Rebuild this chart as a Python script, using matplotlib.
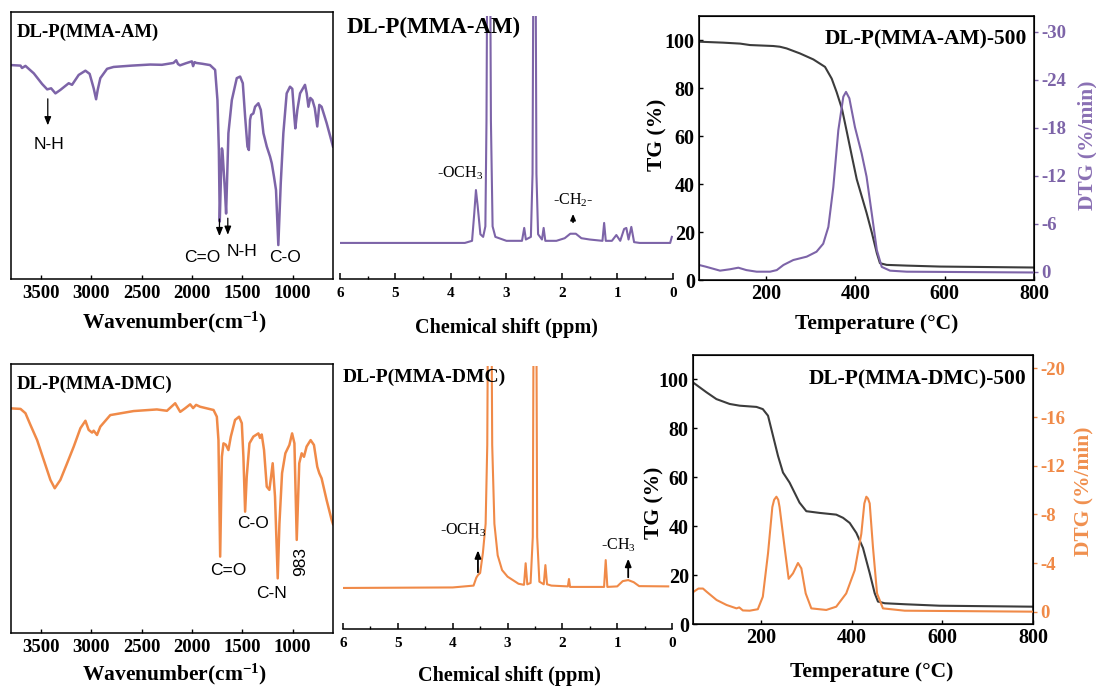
import matplotlib
matplotlib.use("Agg")
import matplotlib.pyplot as plt

plt.rcParams["font.family"] = ["Liberation Serif", "DejaVu Serif"]
plt.rcParams["mathtext.fontset"] = "custom"
plt.rcParams["mathtext.rm"] = "Liberation Serif"
plt.rcParams["mathtext.bf"] = "Liberation Serif:bold"
plt.rcParams["mathtext.it"] = "Liberation Serif:italic"
plt.rcParams["axes.unicode_minus"] = False

PURPLE = "#7d64a8"
ORANGE = "#f08a48"
GREY = "#3c3c3c"
SANS = ["Liberation Sans", "DejaVu Sans"]

# ---------------- FTIR (wavenumber, transmittance a.u.) ----------------
ftir_am_wn = [3800, 3705, 3690, 3656, 3573, 3490, 3440, 3401, 3358, 3309, 3226, 3193,
              3127, 3060, 3018, 2978, 2954, 2938, 2912, 2845, 2780, 2600, 2416, 2300,
              2185, 2158, 2140, 2120, 2060, 2002, 1990, 1975, 1958, 1900, 1822, 1771,
              1748, 1734, 1725, 1712, 1704, 1698, 1674, 1662, 1650, 1639, 1605, 1556,
              1523, 1496, 1473, 1450, 1436, 1424, 1414, 1391, 1374, 1341, 1317, 1291,
              1258, 1225, 1208, 1186, 1166, 1143, 1119, 1093, 1060, 1027, 1004, 984,
              974, 954, 927, 878, 861, 844, 825, 804, 781, 756, 736, 713, 663, 600]
ftir_am_t = [80.1, 79.9, 79.0, 79.8, 77.0, 73.0, 71.0, 71.4, 69.5, 70.8, 73.3, 72.7,
             76.4, 78.0, 76.8, 71.4, 67.3, 70.8, 75.2, 78.7, 79.4, 79.9, 80.3, 80.2,
             80.9, 81.9, 80.5, 80.0, 80.8, 81.5, 79.7, 81.2, 80.9, 80.6, 80.1, 78.3,
             67.0, 48.3, 21.5, 40.0, 48.9, 48.0, 33.3, 24.5, 40.0, 54.6, 67.0, 75.2,
             75.8, 73.3, 60.8, 49.6, 48.3, 59.6, 61.4, 62.0, 64.5, 65.8, 63.3, 54.6,
             49.6, 45.8, 43.3, 38.3, 33.3, 12.7, 35.8, 54.6, 69.5, 72.0, 71.2, 60.8,
             56.4, 63.3, 69.5, 72.7, 69.5, 64.5, 67.8, 67.0, 64.0, 57.1, 65.2, 64.5,
             58.4, 49.6]

ftir_dmc_wn = [3800, 3705, 3656, 3606, 3540, 3474, 3408, 3365, 3309, 3242, 3176, 3110,
               3060, 3028, 2994, 2978, 2945, 2912, 2813, 2581, 2350, 2250, 2168, 2118,
               2070, 2019, 1990, 1960, 1920, 1787, 1754, 1738, 1721, 1704, 1688, 1665,
               1639, 1615, 1573, 1533, 1506, 1490, 1473, 1457, 1430, 1391, 1341, 1325,
               1308, 1285, 1258, 1232, 1215, 1199, 1176, 1149, 1132, 1106, 1073, 1033,
               1006, 983, 960, 935, 911, 888, 862, 822, 789, 756, 736, 713, 663, 613, 600]
ftir_dmc_t = [83.5, 83.3, 81.7, 77.3, 71.7, 64.3, 56.9, 53.8, 56.9, 63.1, 69.3, 76.1,
              78.9, 75.5, 74.5, 75.2, 73.6, 76.7, 81.0, 82.5, 83.1, 82.6, 85.4, 82.2,
              83.5, 85.0, 83.6, 84.8, 84.1, 82.9, 80.4, 71.7, 28.4, 65.5, 70.5, 70.0,
              68.0, 73.0, 79.2, 80.4, 78.0, 65.5, 45.1, 58.1, 70.5, 73.0, 74.2, 72.5,
              73.8, 68.0, 54.4, 53.2, 58.1, 63.1, 50.7, 20.3, 40.7, 59.4, 66.8, 69.9,
              74.2, 70.5, 34.6, 63.1, 66.8, 65.5, 69.3, 71.7, 69.9, 61.8, 59.4, 57.5,
              49.4, 42.0, 40.5]
ftir_ticks = [3500, 3000, 2500, 2000, 1500, 1000]

# ---------------- 1H NMR (ppm, intensity a.u.) ----------------
nmr_am_ppm = [6.0, 3.75, 3.62, 3.58, 3.55, 3.52, 3.47, 3.42, 3.38, 3.36, 3.34, 3.30,
              3.28, 3.25, 3.2, 3.0, 2.72, 2.68, 2.65, 2.56, 2.53, 2.51, 2.48, 2.46,
              2.43, 2.36, 2.33, 2.30, 2.1, 1.95, 1.85, 1.75, 1.65, 1.5, 1.27, 1.24,
              1.21, 1.1, 1.02, 0.95, 0.88, 0.84, 0.80, 0.75, 0.70, 0.6, 0.05, 0.02]
nmr_am_int = [13.7, 13.7, 14.5, 25.0, 33.8, 28.0, 17.0, 16.0, 20.0, 60.0, 150, 150,
              60.0, 20.0, 16.0, 14.5, 14.5, 19.4, 15.0, 16.0, 40.0, 150, 150, 40.0,
              17.0, 15.0, 19.4, 14.5, 14.5, 15.5, 17.2, 17.2, 15.5, 15.0, 14.5, 21.3,
              14.5, 14.5, 16.7, 14.5, 19.0, 19.4, 15.0, 19.8, 14.0, 13.7, 13.7, 16.0]

nmr_dmc_ppm = [6.0, 4.0, 3.62, 3.57, 3.54, 3.50, 3.45, 3.40, 3.37, 3.35, 3.30, 3.28,
               3.24, 3.18, 3.10, 3.00, 2.80, 2.70, 2.67, 2.64, 2.58, 2.54, 2.52, 2.48,
               2.46, 2.42, 2.34, 2.31, 2.28, 2.2, 1.90, 1.88, 1.86, 1.5, 1.24, 1.21,
               1.18, 1.0, 0.9, 0.8, 0.7, 0.6, 0.07]
nmr_dmc_int = [15.6, 15.8, 16.5, 19.5, 20.5, 21.3, 28.9, 40.0, 70.0, 150, 150, 70.0,
               40.0, 28.0, 22.4, 19.9, 17.2, 16.8, 25.0, 17.0, 17.5, 35.0, 150, 150,
               35.0, 18.0, 17.0, 24.3, 17.0, 16.5, 16.2, 19.0, 16.0, 16.0, 16.0, 26.2,
               16.0, 16.2, 18.2, 18.6, 17.8, 16.3, 16.2]

# ---------------- TGA / DTG ----------------
tg_am_temp = [50, 104, 142, 164, 216, 231, 246, 276, 306, 332, 347, 358, 370, 381,
              392, 403, 414, 425, 437, 448, 455, 470, 515, 589, 800]
tg_am = [99.3, 98.9, 98.5, 97.9, 97.5, 97.2, 96.5, 94.4, 91.9, 88.8, 83.9, 78.3, 71.3,
         61.6, 51.7, 42.0, 35.0, 28.0, 19.6, 11.2, 7.0, 6.3, 6.0, 5.6, 5.2]
dtg_am_temp = [50, 65, 97, 119, 138, 156, 179, 209, 224, 239, 261, 291, 313, 328,
               339.5, 350.6, 361.8, 373, 379, 386.5, 399, 414, 425, 436.6, 448, 459,
               477.6, 515, 800]
dtg_am = [-0.84, -0.63, -0.13, -0.3, -0.5, -0.2, 0.0, 0.0, -0.2, -0.84, -1.46, -1.88,
          -2.5, -3.5, -5.6, -10.6, -17.7, -21.9, -22.5, -21.7, -18.1, -14.8, -11.9,
          -7.3, -2.7, -0.6, -0.13, 0.0, 0.1]

tg_dmc_temp = [50, 79.5, 101.6, 131, 153, 190, 204, 215.5, 226.5, 237.5, 248.5, 263,
               274, 285, 300, 329.5, 366, 381, 395.7, 410.4, 425, 439.8, 450.8, 458,
               473, 517, 594, 800]
tg_dmc = [98.8, 94.8, 92.0, 90.0, 89.3, 88.8, 87.9, 85.2, 77.0, 68.8, 62.0, 57.9,
          53.8, 49.7, 46.2, 45.5, 44.8, 43.5, 41.4, 37.3, 31.2, 20.9, 12.7, 9.3, 8.6,
          8.2, 7.6, 7.2]
dtg_dmc_temp = [50, 62, 72, 80, 102, 124, 146, 152, 160, 175, 193, 204, 215.5, 225,
                229, 234, 238, 241, 252, 261, 270.6, 281.6, 289, 298.6, 311, 344, 366,
                388, 406.7, 421.3, 428, 432.4, 436, 439.8, 447, 456, 469, 517, 800]
dtg_dmc = [-1.6, -1.9, -1.9, -1.64, -0.96, -0.55, -0.27, -0.35, -0.1, -0.08, -0.2,
           -1.23, -4.8, -8.6, -9.2, -9.45, -9.2, -8.6, -5.3, -2.7, -3.15, -4.0, -3.56,
           -1.5, -0.27, -0.14, -0.41, -1.5, -3.4, -6.4, -8.9, -9.45, -9.3, -8.9, -5.3,
           -1.5, -0.27, -0.08, 0.0]

fig = plt.figure(figsize=(10.96, 6.9), dpi=100)


def ftir_panel(rect, wn, t, color, title):
    ax = fig.add_axes(rect)
    ax.plot(wn, t, color=color, lw=1.8)
    ax.set_xlim(3800, 600)
    ax.set_ylim(0, 100)
    ax.set_yticks([])
    ax.set_xticks(ftir_ticks)
    ax.tick_params(axis="x", direction="in", length=3, width=1, pad=4, labelsize=13.5)
    for lab in ax.get_xticklabels():
        lab.set_fontweight("bold")
    for s in ax.spines.values():
        s.set_linewidth(1.1)
    ax.text(0.017, 0.925, title, transform=ax.transAxes, fontsize=13.5,
            fontweight="bold", va="center", ha="left")
    return ax


def nmr_panel(rect, ppm, inten, color, title, tsize):
    ax = fig.add_axes(rect)
    ax.plot(ppm, inten, color=color, lw=1.5)
    ax.set_xlim(6, 0)
    ax.set_ylim(0, 100)
    ax.set_yticks([])
    for side in ("left", "right", "top"):
        ax.spines[side].set_visible(False)
    ax.spines["bottom"].set_linewidth(1.1)
    ax.set_xticks(range(0, 7))
    ax.set_xticks([i + 0.5 for i in range(6)], minor=True)
    ax.tick_params(axis="x", which="major", direction="in", length=4, width=1.1,
                   pad=6, labelsize=11)
    ax.tick_params(axis="x", which="minor", direction="in", length=2.5, width=1)
    for lab in ax.get_xticklabels():
        lab.set_fontweight("bold")
    ax.patch.set_alpha(0)
    ax.text(0.02 if tsize > 15 else 0.0, 0.955, title, transform=ax.transAxes,
            fontsize=tsize, fontweight="bold", va="center", ha="left")
    return ax


def tga_panel(rect, temp, tg, dtemp, dtg, color, title, dlim, dticks):
    ax = fig.add_axes(rect)
    ax.plot(temp, tg, color=GREY, lw=1.5)
    ax.set_xlim(50, 800)
    ax.set_ylim(0, 110)
    ax.set_yticks(range(0, 101, 20))
    ax.set_xticks([200, 400, 600, 800])
    ax.tick_params(direction="in", length=3, width=1, labelsize=14.5, pad=3)
    for lab in ax.get_xticklabels() + ax.get_yticklabels():
        lab.set_fontweight("bold")
    for s in ax.spines.values():
        s.set_linewidth(1.1)
    ax2 = ax.twinx()
    ax2.plot(dtemp, dtg, color=color, lw=1.5)
    ax2.set_ylim(*dlim)
    ax2.set_yticks(dticks)
    ax2.tick_params(axis="y", direction="out", length=3, width=1, colors=color,
                    labelsize=13.5, pad=2)
    for lab in ax2.get_yticklabels():
        lab.set_fontweight("bold")
    ax2.text(0.98, 0.91, title, transform=ax2.transAxes, fontsize=15.5,
             fontweight="bold", ha="right", va="center")
    return ax, ax2


# ---- top row ----
ax1 = ftir_panel([0.0100, 0.5957, 0.2938, 0.3870], ftir_am_wn, ftir_am_t, PURPLE,
                 "DL-P(MMA-AM)")
arrow = dict(arrowstyle="-|>,head_length=0.5,head_width=0.2", color="black", lw=0.9)
ax1.annotate("", xy=(3434, 56.5), xytext=(3434, 68.5), arrowprops=arrow)
ax1.text(3418, 50.2, "N-H", family=SANS, fontsize=12.5, ha="center", va="center")
ax1.annotate("", xy=(1728, 15.0), xytext=(1728, 23.5), arrowprops=arrow)
ax1.annotate("", xy=(1645, 15.5), xytext=(1645, 23.8), arrowprops=arrow)
ax1.text(1898, 8.2, "C=O", family=SANS, fontsize=12.5, ha="center", va="center")
ax1.text(1500, 10.2, "N-H", family=SANS, fontsize=12.5, ha="center", va="center")
ax1.text(1077, 8.1, "C-O", family=SANS, fontsize=12.5, ha="center", va="center")

ax2 = nmr_panel([0.3102, 0.5957, 0.3038, 0.3812], nmr_am_ppm, nmr_am_int, PURPLE,
                "DL-P(MMA-AM)", 16.5)
ax2.text(3.84, 40.3, "-OCH$_3$", fontsize=11.5, ha="center", va="center")
ax2.text(1.8, 30.0, "-CH$_2$-", fontsize=11.5, ha="center", va="center")
ax2.annotate("", xy=(1.8, 25.8), xytext=(1.8, 20.5),
             arrowprops=dict(arrowstyle="-|>,head_length=0.35,head_width=0.15",
                             color="black", lw=1.2))

tga_panel([0.6378, 0.5942, 0.3057, 0.3826], tg_am_temp, tg_am, dtg_am_temp, dtg_am,
          PURPLE, "DL-P(MMA-AM)-500", (1.04, -32.0), [0, -6, -12, -18, -24, -30])

# ---- bottom row ----
ax4 = ftir_panel([0.0100, 0.0826, 0.2938, 0.3899], ftir_dmc_wn, ftir_dmc_t, ORANGE,
                 "DL-P(MMA-DMC)")
ax4.text(1639, 23.4, "C=O", family=SANS, fontsize=12.5, ha="center", va="center")
ax4.text(1391, 40.8, "C-O", family=SANS, fontsize=12.5, ha="center", va="center")
ax4.text(1209, 14.8, "C-N", family=SANS, fontsize=12.5, ha="center", va="center")
ax4.text(921, 26.5, "983", family=SANS, fontsize=12.5, ha="center", va="center",
         rotation=90)

ax5 = nmr_panel([0.3130, 0.0884, 0.3002, 0.3812], nmr_dmc_ppm, nmr_dmc_int, ORANGE,
                "DL-P(MMA-DMC)", 14)
ax5.text(3.81, 37.6, "-OCH$_3$", fontsize=11.5, ha="center", va="center")
ax5.text(0.98, 31.9, "-CH$_3$", fontsize=11.5, ha="center", va="center")
narrow = dict(arrowstyle="-|>,head_length=0.45,head_width=0.18", color="black", lw=1.3)
ax5.annotate("", xy=(3.54, 31.0), xytext=(3.54, 20.5), arrowprops=narrow)
ax5.annotate("", xy=(0.80, 27.8), xytext=(0.80, 18.6), arrowprops=narrow)

tga_panel([0.6323, 0.0952, 0.3102, 0.3903], tg_dmc_temp, tg_dmc, dtg_dmc_temp, dtg_dmc,
          ORANGE, "DL-P(MMA-DMC)-500", (1.04, -21.1), [0, -4, -8, -12, -16, -20])

# ---- axis labels placed in figure coordinates ----
lab = dict(fontweight="bold", ha="center", va="center")
fig.text(0.159, 0.533, r"Wavenumber(cm$^{\mathbf{-1}}$)", fontsize=15.5, **lab)
fig.text(0.159, 0.022, r"Wavenumber(cm$^{\mathbf{-1}}$)", fontsize=15.5, **lab)
fig.text(0.462, 0.525, "Chemical shift (ppm)", fontsize=14.5, **lab)
fig.text(0.465, 0.021, "Chemical shift (ppm)", fontsize=14.5, **lab)
fig.text(0.800, 0.530, "Temperature (\u00b0C)", fontsize=15.5, **lab)
fig.text(0.795, 0.026, "Temperature (\u00b0C)", fontsize=15.5, **lab)
fig.text(0.600, 0.804, "TG (%)", fontsize=15.5, rotation=90, **lab)
fig.text(0.597, 0.271, "TG (%)", fontsize=15.5, rotation=90, **lab)
fig.text(0.992, 0.790, "DTG (%/min)", fontsize=15.5, rotation=90, color="#8a70b4", **lab)
fig.text(0.989, 0.288, "DTG (%/min)", fontsize=15.5, rotation=90, color="#f0904f", **lab)

fig.savefig("out.png", dpi=100)
